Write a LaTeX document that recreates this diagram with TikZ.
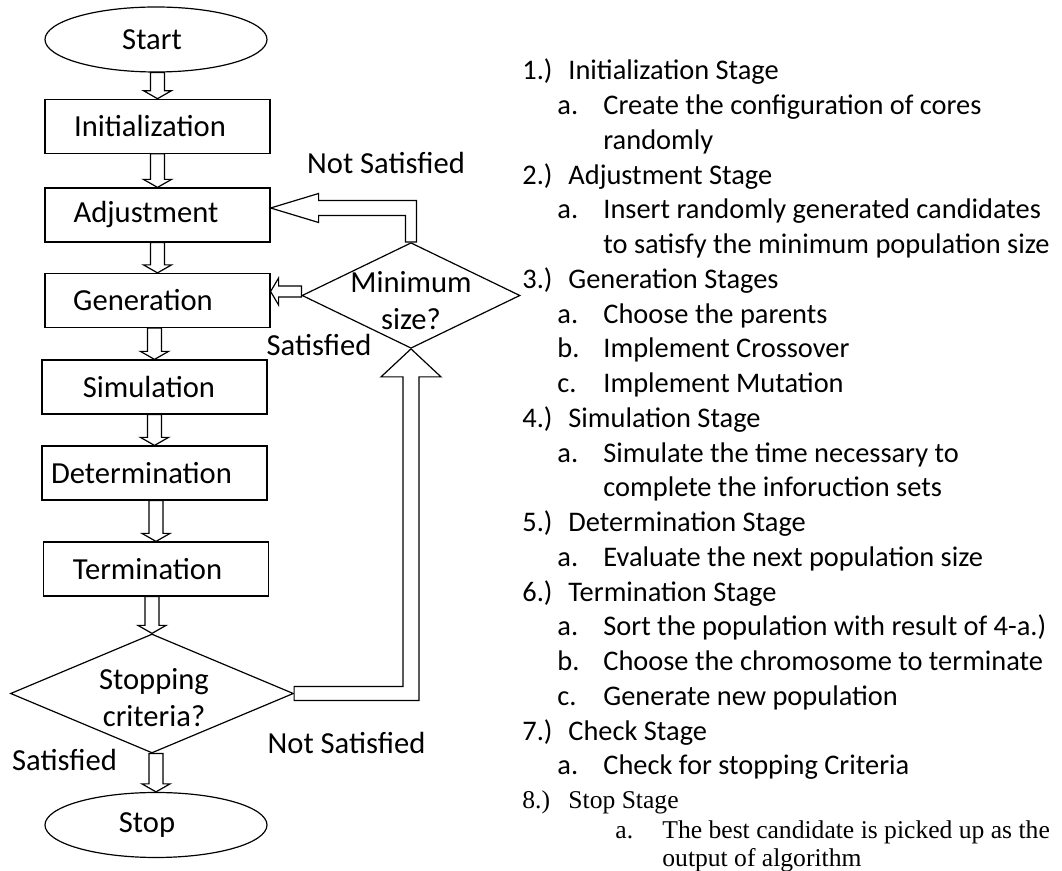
\documentclass[tikz,border=0pt]{standalone}
\usepackage{fontspec}
\setmainfont{Carlito}
\newfontfamily\timesfont{Liberation Serif}
\usepackage{tikz}
\usetikzlibrary{shapes,calc}
\newcommand{\chartfont}{\fontsize{15.3}{18.5}\selectfont}
\newcommand{\listfont}{\fontsize{14.2}{17.4}\selectfont}
\tikzstyle{terminal} = [ellipse, draw, line width=0.6pt, minimum width=111pt, minimum height=32.5pt, inner sep=0pt, font=\chartfont]
\tikzstyle{stage} = [rectangle, draw, line width=0.6pt, minimum width=112.5pt, minimum height=27pt, inner sep=0pt, font=\chartfont]
\tikzstyle{decision} = [diamond, draw, line width=0.6pt, inner sep=0pt]
\tikzstyle{hollow} = [draw, line width=0.6pt, fill=white]
\tikzstyle{lbl} = [font=\chartfont, inner sep=0pt]
\tikzstyle{item} = [font=\listfont, anchor=base west, inner sep=0pt]
\tikzstyle{serifitem} = [item, font=\timesfont\fontsize{12.8}{15}\selectfont]
% hollow block arrow pointing down from #1 to #2
\newcommand{\hollowdown}[2]{%
  \draw[hollow] ($(#2.north |- #1.south)+(-7,0)$) -- ($(#2.north)+(-7,-8)$) -- ++(-7,0) -- (#2.north)
    -- ++(14,-8) -- ++(-7,0) -- ($(#2.north |- #1.south)+(7,0)$) -- cycle;}

\begin{document}
\begin{tikzpicture}[x=0.5pt, y=-0.5pt]
\useasboundingbox (0,0) rectangle (1062,871);
% Flow chart (text sits a little left of centre in the boxes)
\node (start) [terminal] at (156,39.5) {Start\hspace*{4pt}};
\node (init) [stage] at (157.5,126.3) {Initialization\hspace*{7.5pt}};
\node (adj) [stage] at (157.5,215) {Adjustment\hspace*{11.5pt}};
\node (gen) [stage] at (157.5,300.5) {Generation\hspace*{14.5pt}};
\node (sim) [stage] at (154.5,387) {Simulation\hspace*{5.5pt}};
\node (det) [stage] at (154.5,473) {Determination\hspace*{13pt}};
\node (term) [stage] at (156,569) {Termination\hspace*{8.5pt}};
\node (crit) [decision, minimum width=141.5pt, minimum height=59.5pt] at (152,693.5) {};
\node (crittxt) [lbl, align=center] at (154,698) {Stopping\\criteria?};
\node (stop) [terminal] at (156,825) {Stop\hspace*{9pt}};
\node (mins) [decision, minimum width=109pt, minimum height=52.8pt] at (411,295.5) {};
\node (minstxt) [lbl, align=center] at (411,301) {Minimum\\size?};

% Arrows down the chart
\foreach \a/\b in {start/init, init/adj, adj/gen, gen/sim, sim/det, det/term, term/crit, crit/stop}
  \hollowdown{\a}{\b};

% Loop back through the size check
\coordinate (adjin) at ($(adj.east)+(0,-7)$);
\coordinate (genin) at ($(gen.east)+(0,-9)$);
\draw[hollow] ($(mins.north)+(-5.5,0)$) -- ($(mins.north |- adjin)+(-5.5,7.5)$) -- ($(adjin)+(48,7.5)$)
  -- ($(adjin)+(48,14.5)$) -- (adjin) -- ($(adjin)+(48,-14.5)$) -- ($(adjin)+(48,-7.5)$)
  -- ($(mins.north |- adjin)+(5.5,-7.5)$) -- ($(mins.north)+(5.5,0)$) -- cycle;
\draw[hollow] ($(mins.west |- genin)+(0,-5.5)$) -- ($(genin)+(8,-5.5)$) -- ($(genin)+(8,-13.5)$) -- (genin)
  -- ($(genin)+(8,13.5)$) -- ($(genin)+(8,5.5)$) -- ($(mins.west |- genin)+(0,5.5)$) -- cycle;
\draw[hollow] ($(crit.east)+(0,-7)$) -- ($(mins.south |- crit.east)+(-8,-7)$) -- ($(mins.south)+(-8,28)$)
  -- ($(mins.south)+(-30,28)$) -- (mins.south) -- ($(mins.south)+(30,28)$) -- ($(mins.south)+(8,28)$)
  -- ($(mins.south |- crit.east)+(8,7)$) -- ($(crit.east)+(0,7)$) -- cycle;

% Branch labels
\node (nsat1) [lbl] at (386,163) {Not Satisfied};
\node (sat1) [lbl] at (319,345) {Satisfied};
\node (nsat2) [lbl] at (346.5,743) {Not Satisfied};
\node (sat2) [lbl] at (64.5,760) {Satisfied};

% Stage list
\foreach \i/\dx/\lab/\txt in {
  0/0/1.)/Initialization Stage,
  1/35/a./Create the configuration of cores,
  2/35//randomly,
  3/0/2.)/Adjustment Stage,
  4/35/a./Insert randomly generated candidates,
  5/35//to satisfy the minimum population size,
  6/0/3.)/Generation Stages,
  7/35/a./Choose the parents,
  8/35/b./Implement Crossover,
  9/35/c./Implement Mutation,
  10/0/4.)/Simulation Stage,
  11/35/a./Simulate the time necessary to,
  12/35//complete the inforuction sets,
  13/0/5.)/Determination Stage,
  14/35/a./Evaluate the next population size,
  15/0/6.)/Termination Stage,
  16/35/a./Sort the population with result of 4-a.),
  17/35/b./Choose the chromosome to terminate,
  18/35/c./Generate new population,
  19/0/7.)/Check Stage,
  20/35/a./Check for stopping Criteria}
{
  \node (lab\i) [item] at ({522+\dx},{80+34.75*\i}) {\lab};
  \node (txt\i) [item] at ({568+\dx},{80+34.75*\i}) {\txt};
}
\node (lab21) [serifitem] at (522,808.3) {8.)};
\node (txt21) [serifitem] at (568,808.3) {Stop Stage};
\node (lab22) [serifitem] at (615,838.3) {a.};
\node (txt22) [serifitem] at (662,838.3) {The best candidate is picked up as the};
\node (txt23) [serifitem] at (662,866.7) {output of algorithm};
\end{tikzpicture}
\end{document}
